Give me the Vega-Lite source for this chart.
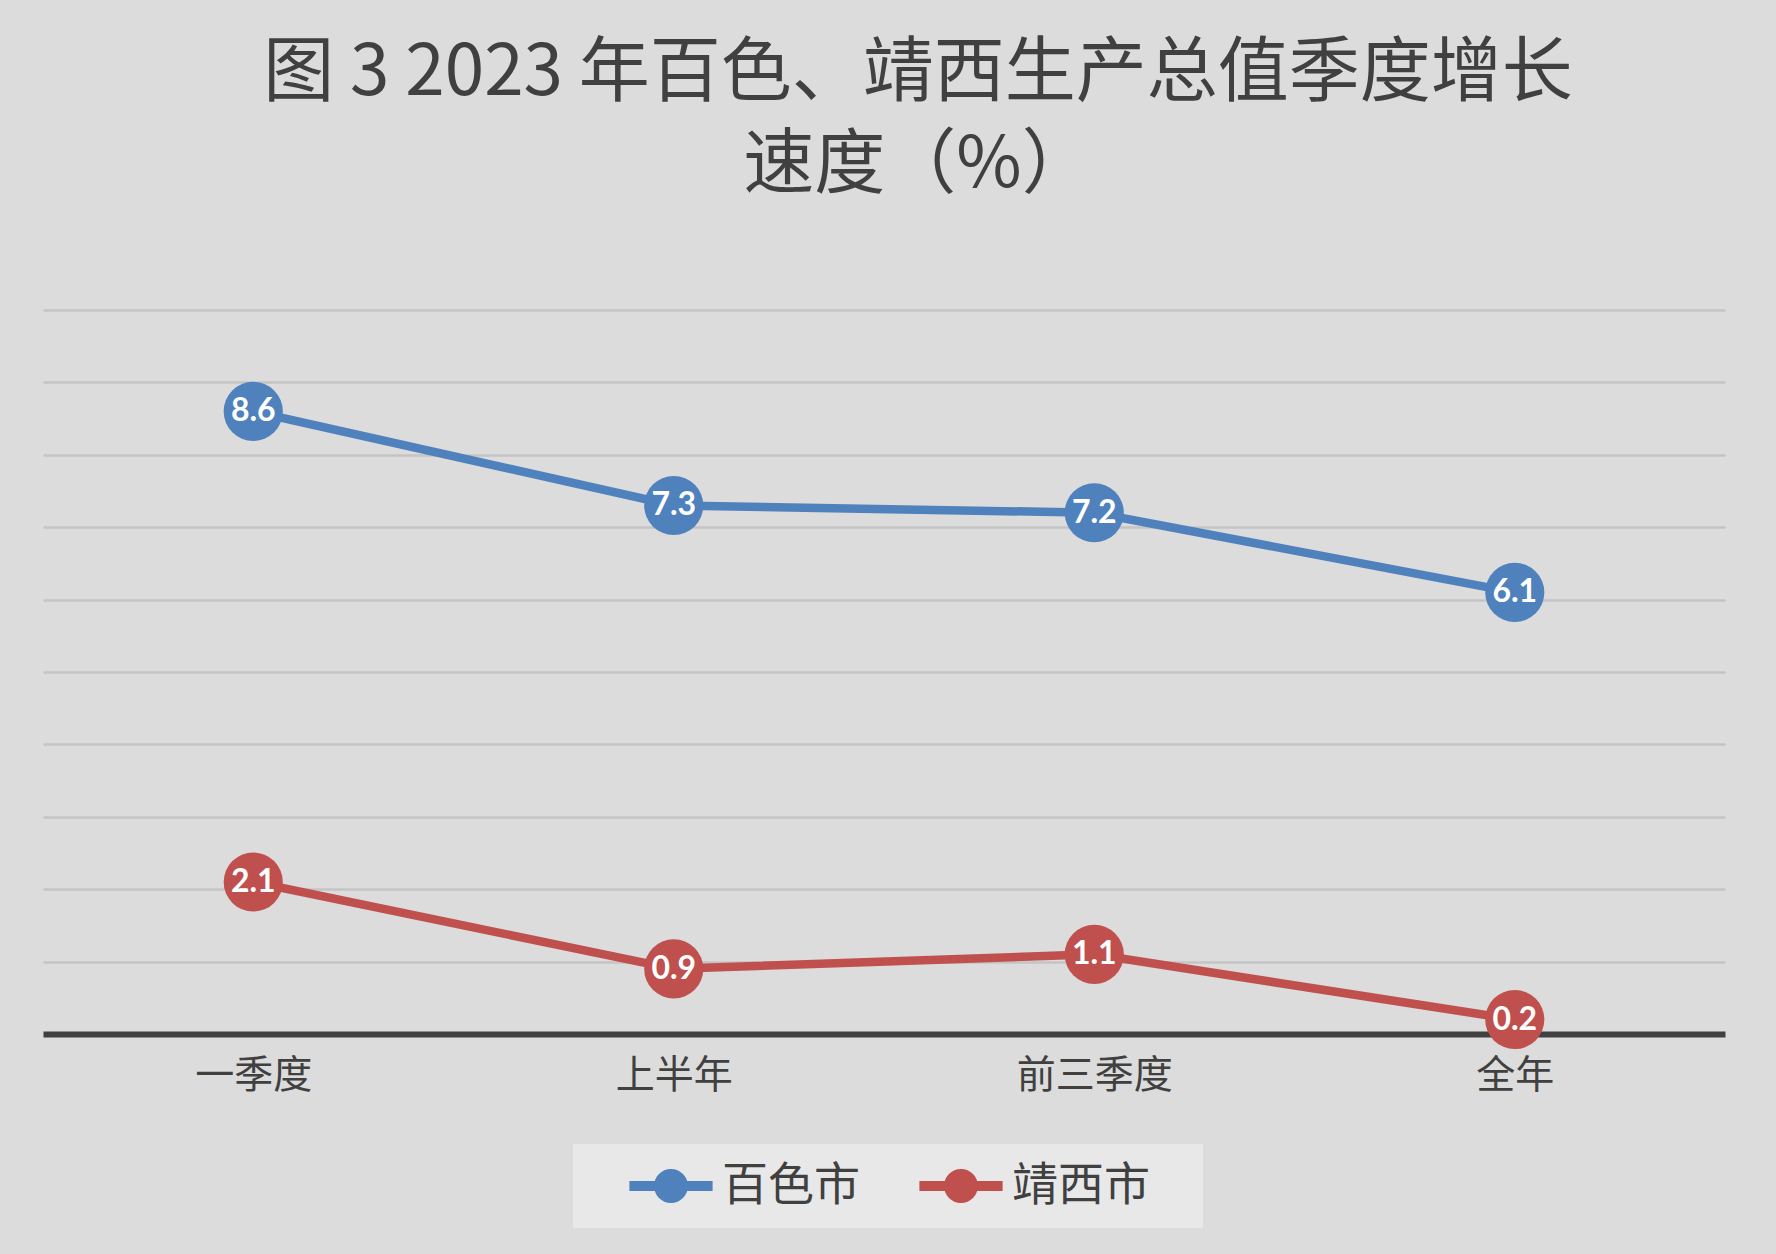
{
  "$schema": "https://vega.github.io/schema/vega-lite/v6.json",
  "width": 1682,
  "height": 724,
  "autosize": "none",
  "padding": {"left": 43, "top": 310, "right": 51, "bottom": 220},
  "background": "#dcdcdc",
  "title": {
    "text": ["图 3 2023 年百色、靖西生产总值季度增长", "速度（%）"],
    "font": "Noto Sans CJK SC",
    "fontSize": 71,
    "fontWeight": "normal",
    "color": "#404040",
    "anchor": "middle",
    "lineHeight": 92,
    "offset": 108,
    "dx": 34
  },
  "data": {
    "values": [
      {"period": "一季度", "city": "百色市", "value": 8.6},
      {"period": "上半年", "city": "百色市", "value": 7.3},
      {"period": "前三季度", "city": "百色市", "value": 7.2},
      {"period": "全年", "city": "百色市", "value": 6.1},
      {"period": "一季度", "city": "靖西市", "value": 2.1},
      {"period": "上半年", "city": "靖西市", "value": 0.9},
      {"period": "前三季度", "city": "靖西市", "value": 1.1},
      {"period": "全年", "city": "靖西市", "value": 0.2}
    ]
  },
  "encoding": {
    "x": {
      "field": "period",
      "type": "nominal",
      "sort": ["一季度", "上半年", "前三季度", "全年"],
      "scale": {"paddingInner": 0, "paddingOuter": 0},
      "axis": {
        "title": null,
        "labelAngle": 0,
        "labelFont": "Noto Sans CJK SC",
        "labelFontSize": 39,
        "labelColor": "#404040",
        "labelPadding": 22,
        "ticks": false,
        "grid": false,
        "domainColor": "#404040",
        "domainWidth": 6
      }
    },
    "y": {
      "field": "value",
      "type": "quantitative",
      "scale": {"domain": [0, 10], "nice": false},
      "axis": {
        "title": null,
        "labels": false,
        "ticks": false,
        "domain": false,
        "values": [1, 2, 3, 4, 5, 6, 7, 8, 9, 10],
        "gridColor": "#c4c4c4",
        "gridWidth": 2.5
      }
    },
    "color": {
      "field": "city",
      "type": "nominal",
      "sort": ["百色市", "靖西市"],
      "scale": {"domain": ["百色市", "靖西市"], "range": ["#4f81bd", "#c0504d"]},
      "legend": {
        "title": null,
        "orient": "none",
        "direction": "horizontal",
        "legendX": 530,
        "legendY": 834,
        "fillColor": "#e8e8e8",
        "padding": 19,
        "labelFont": "Noto Sans CJK SC",
        "labelFontSize": 46,
        "labelColor": "#404040",
        "labelLimit": 400,
        "labelExpr": "datum.value == '靖西市' ? datum.label + '\u2800' : datum.label",
        "labelOffset": 28,
        "symbolOffset": 56,
        "columnPadding": 22,
        "symbolType": "M-2.08,-0.25L2.08,-0.25L2.08,0.25L-2.08,0.25Z M-0.85,0A0.85,0.85 0 1,1 0.85,0A0.85,0.85 0 1,1 -0.85,0Z",
        "symbolSize": 1600,
        "symbolStrokeWidth": 0,
        "symbolOpacity": 1
      }
    }
  },
  "layer": [
    {"mark": {"type": "line", "strokeWidth": 8.5}},
    {"mark": {"type": "point", "shape": "circle", "filled": true, "opacity": 1, "size": 3500}},
    {
      "mark": {"type": "text", "font": "Lato", "fontWeight": "bold", "fontSize": 32, "baseline": "middle", "align": "center"},
      "encoding": {
        "text": {"field": "value", "type": "quantitative", "format": ".1f"},
        "color": {"value": "white"}
      }
    }
  ]
}
